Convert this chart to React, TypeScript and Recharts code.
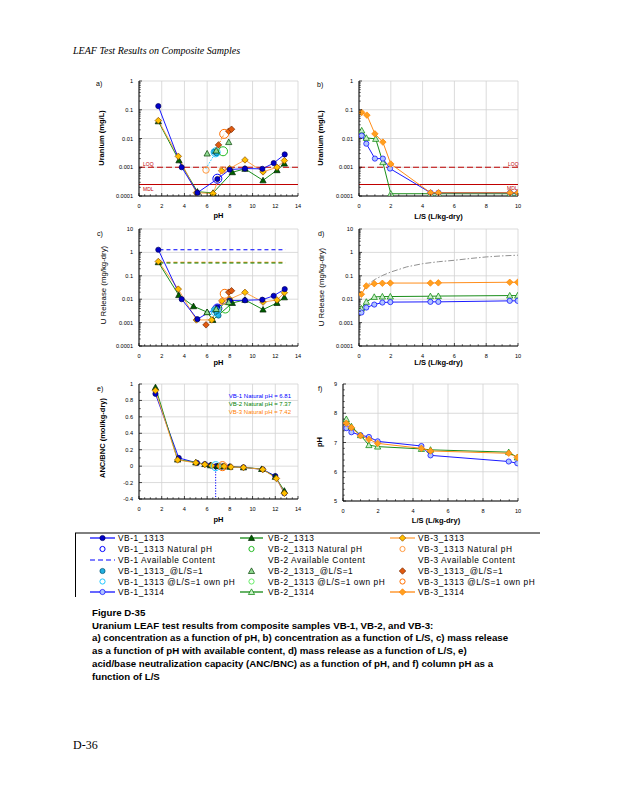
import React from 'react';
import { ComposedChart, Line, XAxis, YAxis, CartesianGrid, ReferenceLine } from 'recharts';

// ---------------- colours ----------------
const BLUE = '#0000ff';
const GREEN = '#008000';
const ORANGE = '#ff9933';
const ORANGE2 = '#ff8000';
const RED = '#c00000';

// ---------------- tick values ----------------
const phTicks = [0, 2, 4, 6, 8, 10, 12, 14];
const lsTicks = [0, 2, 4, 6, 8, 10];
const concTicks = [0.0001, 0.001, 0.01, 0.1, 1];
const releaseTicks = [0.0001, 0.001, 0.01, 0.1, 1, 10];
const ancTicks = [-0.4, -0.2, 0, 0.2, 0.4, 0.6, 0.8, 1];
const columnPhTicks = [5, 6, 7, 8, 9];

// ---------------- a) concentration vs pH (mg/L) ----------------
const a_VB1_1313 = [[1.7, 0.134], [3.76, 0.001], [5.14, 0.00013], [6.9, 0.00039], [7.98, 0.00083], [9.33, 0.0009], [10.86, 0.00088], [11.86, 0.0014], [12.83, 0.0028]];
const a_VB2_1313 = [[1.7, 0.0396], [3.52, 0.00174], [5.14, 0.000141], [6.52, 0.000128], [8.22, 0.00067], [9.33, 0.00088], [10.92, 0.00035], [12.15, 0.00079], [12.8, 0.00134]];
const a_VB3_1313 = [[1.7, 0.042], [3.46, 0.0024], [5.05, 0.00013], [6.52, 0.000122], [7.28, 0.00075], [7.98, 0.0009], [9.33, 0.0018], [10.92, 0.00069], [12.15, 0.001], [12.8, 0.0017]];
const a_VB1_nat = [[6.9, 0.0004]];
const a_VB1_ls1 = [[6.6, 0.0035], [6.85, 0.003]];
const a_VB1_own = [[6.75, 0.0033]];
const a_VB1_ownLine = [[5.9, 0.0009], [6.75, 0.0033]];
const a_VB2_nat = [[7.4, 0.0036]];
const a_VB2_ls1 = [[6.0, 0.003], [6.8, 0.0038], [7.9, 0.0075]];
const a_VB3_nat = [[7.35, 0.0008], [5.9, 0.0008]];
const a_VB3_ls1 = [[7.0, 0.006], [7.9, 0.018], [8.15, 0.021]];
const a_VB3_own = [[7.5, 0.0145]];
const a_VB3_ownLine = [[7.0, 0.006], [7.5, 0.0145]];
const a_LOQ = 0.001;
const a_MDL = 0.00025;

// ---------------- b) concentration vs L/S (mg/L) ----------------
const b_VB1_1314 = [[0.17, 0.0126], [0.46, 0.0066], [1.0, 0.002], [1.5, 0.002], [1.95, 0.0009], [4.5, 0.00013], [5.0, 0.00013], [9.5, 0.00013], [10, 0.00013]];
const b_VB2_1314 = [[0.17, 0.019], [0.46, 0.0105], [1.05, 0.0097], [1.5, 0.0015], [2.0, 0.00012], [4.5, 0.00012], [5.0, 0.00012], [9.5, 0.00012], [10, 0.00012]];
const b_VB3_1314 = [[0.17, 0.081], [0.5, 0.065], [1.0, 0.0145], [1.5, 0.0075], [2.0, 0.0013], [4.5, 0.00013], [5.0, 0.00013], [9.5, 0.00013], [10, 0.00013]];

// ---------------- c) release vs pH (mg/kg-dry) ----------------
const c_VB1_1313 = [[1.7, 1.3], [3.76, 0.01], [5.14, 0.0014], [6.9, 0.0045], [7.98, 0.0088], [9.33, 0.009], [10.86, 0.0095], [11.86, 0.014], [12.83, 0.027]];
const c_VB2_1313 = [[1.7, 0.38], [3.5, 0.015], [4.8, 0.005], [6.0, 0.0028], [6.5, 0.0013], [8.22, 0.0069], [9.33, 0.0094], [10.92, 0.0036], [12.15, 0.0069], [12.8, 0.012]];
const c_VB3_1313 = [[1.7, 0.41], [3.46, 0.027], [5.05, 0.0013], [6.4, 0.0013], [7.3, 0.0085], [7.98, 0.01], [9.33, 0.0196], [10.92, 0.0075], [12.15, 0.0093], [12.8, 0.019]];
const c_VB1_avail = [[1.8, 1.3], [12.9, 1.3]];
const c_VB2_avail = [[1.8, 0.355], [12.9, 0.355]];
const c_VB3_avail = [[1.8, 0.38], [12.9, 0.38]];
const c_VB1_nat = [[6.9, 0.004]];
const c_VB1_ls1 = [[6.6, 0.0035], [6.85, 0.0025], [7.0, 0.002]];
const c_VB1_own = [[6.75, 0.003]];
const c_VB1_ownLine = [[6.3, 0.0022], [6.75, 0.003]];
const c_VB2_nat = [[7.6, 0.004]];
const c_VB2_ls1 = [[6.0, 0.0028], [6.8, 0.0038], [7.9, 0.0075]];
const c_VB3_nat = [[7.55, 0.017]];
const c_VB3_ls1 = [[5.9, 0.0008], [7.9, 0.02], [8.15, 0.023]];
const c_VB3_own = [[7.35, 0.008]];

// ---------------- d) release vs L/S (mg/kg-dry) ----------------
const d_VB1_1314 = [[0.15, 0.0027], [0.46, 0.0044], [0.96, 0.0059], [1.47, 0.0072], [1.97, 0.0075], [4.49, 0.0077], [4.99, 0.0077], [9.48, 0.0085], [9.98, 0.0085]];
const d_VB2_1314 = [[0.15, 0.004], [0.46, 0.0077], [0.96, 0.0125], [1.47, 0.013], [1.97, 0.013], [4.49, 0.0134], [4.99, 0.0136], [9.48, 0.0143], [9.98, 0.0143]];
const d_VB3_1314 = [[0.15, 0.0163], [0.46, 0.037], [0.96, 0.046], [1.47, 0.048], [1.97, 0.049], [4.49, 0.049], [4.99, 0.05], [9.48, 0.053], [9.98, 0.053]];
const d_grey = [[0.3, 0.024], [0.6, 0.045], [1, 0.07], [1.5, 0.105], [2, 0.145], [3, 0.24], [4, 0.33], [5, 0.4], [6, 0.46], [7, 0.55], [8, 0.64], [9, 0.71], [10, 0.76]];

// ---------------- e) ANC/BNC vs pH (mol/kg-dry) ----------------
const e_VB1 = [[1.45, 0.88], [3.5, 0.1], [5.1, 0.04], [5.8, 0.025], [6.3, 0.01], [6.8, 0], [7.3, -0.005], [8.0, -0.005], [9.2, -0.015], [10.9, -0.04], [12.0, -0.12], [12.8, -0.33]];
const e_VB2 = [[1.45, 0.96], [3.4, 0.08], [5.0, 0.045], [5.8, 0.025], [6.3, 0.01], [6.9, 0], [7.4, -0.002], [8.0, -0.008], [9.2, -0.015], [10.8, -0.035], [12.0, -0.13], [12.8, -0.3]];
const e_VB3 = [[1.45, 0.92], [3.4, 0.075], [5.0, 0.04], [5.8, 0.02], [6.4, 0.005], [7.1, 0], [7.5, -0.002], [8.1, -0.01], [9.2, -0.015], [10.9, -0.04], [12.1, -0.15], [12.8, -0.33]];
const e_VB1_natLine = [[6.75, 0], [6.75, -0.4]];
const e_VB1_nat = [[6.75, 0]];
const e_VB3_nat = [[7.35, 0]];
const e_notes = ['VB-1 Natural pH = 6.81', 'VB-2 Natural pH = 7.37', 'VB-3 Natural pH = 7.42'];

// ---------------- f) column pH vs L/S ----------------
const f_VB1 = [[0.19, 7.49], [0.48, 7.35], [1.0, 7.25], [1.48, 7.19], [1.98, 7.04], [4.48, 6.88], [5.0, 6.56], [9.47, 6.35], [9.96, 6.29]];
const f_VB2 = [[0.19, 7.8], [0.48, 7.55], [1.0, 7.25], [1.48, 6.91], [1.98, 6.86], [4.48, 6.78], [5.0, 6.75], [9.47, 6.67], [9.96, 6.49]];
const f_VB3 = [[0.19, 7.66], [0.48, 7.51], [1.0, 7.23], [1.48, 7.11], [1.98, 6.97], [4.48, 6.8], [5.0, 6.71], [9.47, 6.63], [9.96, 6.49]];

// ---------------- captions ----------------
const headerText = 'LEAF Test Results on Composite Samples';
const captionLines = [
  'Figure D-35',
  'Uranium LEAF test results from composite samples VB-1, VB-2, and VB-3:',
  'a) concentration as a function of pH, b) concentration as a function of L/S, c) mass release',
  'as a function of pH with available content, d) mass release as a function of L/S, e)',
  'acid/base neutralization capacity (ANC/BNC) as a function of pH, and f) column pH as a',
  'function of L/S',
];

// ---------------- markers ----------------
type ShapeName = 'circle' | 'triangle' | 'diamond' | 'square';
interface MarkerStyle { shape: ShapeName; r: number; fill: string; stroke: string; sw?: number }

const mVB1_1313: MarkerStyle = { shape: 'circle', r: 2.6, fill: '#0000c8', stroke: '#000060' };
const mVB2_1313: MarkerStyle = { shape: 'triangle', r: 2.6, fill: '#006000', stroke: '#002000' };
const mVB3_1313: MarkerStyle = { shape: 'diamond', r: 2.6, fill: '#ffc000', stroke: '#8a4a00' };
const mVB1_1314: MarkerStyle = { shape: 'circle', r: 2.6, fill: '#b0c4ff', stroke: BLUE };
const mVB2_1314: MarkerStyle = { shape: 'triangle', r: 2.6, fill: '#c8f0c8', stroke: GREEN };
const mVB3_1314: MarkerStyle = { shape: 'diamond', r: 2.6, fill: '#ffa020', stroke: ORANGE2 };
const mVB1_nat: MarkerStyle = { shape: 'circle', r: 4.5, fill: 'none', stroke: BLUE, sw: 1 };
const mVB2_nat: MarkerStyle = { shape: 'circle', r: 4.5, fill: 'none', stroke: '#22bb22', sw: 1 };
const mVB3_nat: MarkerStyle = { shape: 'circle', r: 3.2, fill: 'none', stroke: '#ff9a40', sw: 1 };
const mVB1_ls1: MarkerStyle = { shape: 'circle', r: 2.6, fill: '#20b0e0', stroke: '#005070' };
const mVB2_ls1: MarkerStyle = { shape: 'triangle', r: 2.6, fill: '#90d890', stroke: '#004000' };
const mVB3_ls1: MarkerStyle = { shape: 'diamond', r: 2.6, fill: '#e05a10', stroke: '#7a2a00' };
const mVB1_own: MarkerStyle = { shape: 'circle', r: 4.5, fill: 'none', stroke: '#22c8ff', sw: 1 };
const mVB2_own: MarkerStyle = { shape: 'circle', r: 2.6, fill: 'none', stroke: '#66ee66', sw: 1 };
const mVB3_own: MarkerStyle = { shape: 'circle', r: 4.5, fill: 'none', stroke: '#ff7000', sw: 1 };

function drawMarker(m: MarkerStyle, cx: number, cy: number, key?: any, scale = 1) {
  const r = m.r * scale;
  const sw = m.sw ?? 0.7;
  if (m.shape === 'circle') return <circle key={key} cx={cx} cy={cy} r={r} fill={m.fill} stroke={m.stroke} strokeWidth={sw} />;
  if (m.shape === 'triangle') {
    const h = r * 1.2;
    return <polygon key={key} points={`${cx},${cy - h} ${cx + h},${cy + h * 0.8} ${cx - h},${cy + h * 0.8}`} fill={m.fill} stroke={m.stroke} strokeWidth={sw} />;
  }
  if (m.shape === 'diamond') {
    const h = r * 1.25;
    return <polygon key={key} points={`${cx},${cy - h} ${cx + h},${cy} ${cx},${cy + h} ${cx - h},${cy}`} fill={m.fill} stroke={m.stroke} strokeWidth={sw} />;
  }
  return <rect key={key} x={cx - r} y={cy - r} width={2 * r} height={2 * r} fill={m.fill} stroke={m.stroke} strokeWidth={sw} />;
}

const dotFn = (m: MarkerStyle) => (p: any) => {
  const k = `d${p.index}`;
  if (p.cx == null || p.cy == null || !isFinite(p.cx) || !isFinite(p.cy)) return <g key={k} />;
  return drawMarker(m, p.cx, p.cy, k);
};

// ---------------- panel ----------------
type XY = { x: number; y: number };
const toXY = (arr: number[][]): XY[] => arr.map(([x, y]) => ({ x, y }));

interface SeriesDef { data: number[][]; stroke?: string; width?: number; dash?: string; marker?: MarkerStyle }
interface RefDef { y: number; stroke: string; dash?: string; width?: number }
interface PanelProps {
  left: number; top: number; w: number; h: number;
  xDomain: [number, number]; xTicks: number[]; xStep: number; xMinor: number;
  yLog: boolean; yDomain: [number, number]; yTicks: number[]; yStep?: number; yMinor?: number;
  series: SeriesDef[]; refs?: RefDef[];
  yFmt: (v: number) => string;
}

const ML = 40, MT = 4, MR = 6, MB = 26;
const TICK_FONT = 5.6;

function Panel(p: PanelProps) {
  const pxX = p.w / (p.xDomain[1] - p.xDomain[0]);
  const pxDec = p.yLog ? p.h / Math.log10(p.yDomain[1] / p.yDomain[0]) : 0;
  const pxY = !p.yLog ? p.h / (p.yDomain[1] - p.yDomain[0]) : 0;

  const XTick = (props: any) => {
    const { x, y, payload } = props;
    const v = payload.value as number;
    const items: any[] = [<line key="M" x1={x} x2={x} y1={y} y2={y - 3} stroke="#000" strokeWidth={0.7} />];
    for (let m = p.xMinor; m < p.xStep - 1e-9; m += p.xMinor) {
      if (v + m > p.xDomain[1] + 1e-9) break;
      const xx = x + m * pxX;
      items.push(<line key={`m${m}`} x1={xx} x2={xx} y1={y} y2={y - 1.8} stroke="#000" strokeWidth={0.6} />);
    }
    return (
      <g>
        {items}
        <text x={x} y={y + 10} textAnchor="middle" dominantBaseline="central" fontSize={TICK_FONT} fontFamily="Arial, Liberation Sans" fill="#000">{String(v)}</text>
      </g>
    );
  };

  const YTick = (props: any) => {
    const { x, y, payload } = props;
    const v = payload.value as number;
    const items: any[] = [<line key="M" x1={x} x2={x + 3} y1={y} y2={y} stroke="#000" strokeWidth={0.7} />];
    if (p.yLog) {
      if (v < p.yDomain[1] * 0.999) {
        for (let k = 2; k <= 9; k++) {
          const yy = y - Math.log10(k) * pxDec;
          items.push(<line key={`m${k}`} x1={x} x2={x + 1.8} y1={yy} y2={yy} stroke="#000" strokeWidth={0.6} />);
        }
      }
    } else if (p.yMinor && p.yStep) {
      for (let m = p.yMinor; m < p.yStep - 1e-9; m += p.yMinor) {
        if (v + m > p.yDomain[1] + 1e-9) break;
        const yy = y - m * pxY;
        items.push(<line key={`m${m}`} x1={x} x2={x + 1.8} y1={yy} y2={yy} stroke="#000" strokeWidth={0.6} />);
      }
    }
    return (
      <g>
        {items}
        <text x={x - 6} y={y} textAnchor="end" dominantBaseline="central" fontSize={TICK_FONT} fontFamily="Arial, Liberation Sans" fill="#000">{p.yFmt(v)}</text>
      </g>
    );
  };

  return (
    <div style={{ position: 'absolute', left: p.left - ML, top: p.top - MT }}>
      <ComposedChart width={p.w + ML + MR} height={p.h + MT + MB} margin={{ top: MT, right: MR, left: 0, bottom: 0 }}>
        <CartesianGrid stroke="#d2d2d2" strokeWidth={0.8} />
        <XAxis dataKey="x" type="number" domain={p.xDomain} ticks={p.xTicks} interval={0} allowDataOverflow height={MB}
          axisLine={{ stroke: '#000', strokeWidth: 1 }} tickLine={false} tickSize={0} tickMargin={0} tick={XTick} />
        <YAxis type="number" scale={p.yLog ? 'log' : 'linear'} domain={p.yDomain} ticks={p.yTicks} interval={0} allowDataOverflow width={ML}
          axisLine={{ stroke: '#000', strokeWidth: 1 }} tickLine={false} tickSize={0} tickMargin={0} tick={YTick} />
        {(p.refs || []).map((r, i) => (
          <ReferenceLine key={`r${i}`} y={r.y} stroke={r.stroke} strokeWidth={r.width ?? 1} strokeDasharray={r.dash} />
        ))}
        {p.series.map((s, i) => (
          <Line key={`s${i}`} data={toXY(s.data)} dataKey="y" type="linear" stroke={s.stroke ?? 'none'}
            strokeWidth={s.width ?? 0.9} strokeDasharray={s.dash} dot={s.marker ? dotFn(s.marker) : false}
            activeDot={false} isAnimationActive={false} legendType="none" />
        ))}
      </ComposedChart>
    </div>
  );
}

// ---------------- text helpers ----------------
function Txt(props: { x: number; y: number; children: any; size?: number; bold?: boolean; color?: string; anchor?: 'start' | 'middle' | 'end'; rotate?: boolean; serif?: boolean; italic?: boolean; spacing?: number }) {
  const { x, y, size = 7, bold = false, color = '#000', anchor = 'start', rotate = false, serif = false, italic = false, spacing = 0 } = props;
  const tx = anchor === 'start' ? '0' : anchor === 'middle' ? '-50%' : '-100%';
  return (
    <div style={{
      position: 'absolute', left: x, top: y, whiteSpace: 'nowrap', lineHeight: 1,
      fontSize: size, fontWeight: bold ? 700 : 400, color, letterSpacing: spacing,
      fontFamily: serif ? '"Liberation Serif", "Times New Roman", serif' : '"Liberation Sans", Arial, sans-serif',
      fontStyle: italic ? 'italic' : 'normal',
      transform: rotate ? 'translate(-50%,-50%) rotate(-90deg)' : `translate(${tx},-50%)`,
    }}>{props.children}</div>
  );
}

const logFmt = (v: number) => String(v);
const linFmt = (v: number) => (Math.abs(v) < 1e-9 ? '0' : String(Math.round(v * 10) / 10));

// ---------------- legend ----------------
interface LegendItem { label: string; line?: string; dash?: string; marker?: MarkerStyle }
const legendCol1: LegendItem[] = [
  { label: 'VB-1_1313', line: BLUE, marker: mVB1_1313 },
  { label: 'VB-1_1313 Natural pH', marker: mVB1_nat },
  { label: 'VB-1 Available Content', line: BLUE, dash: '5 3' },
  { label: 'VB-1_1313_@L/S=1', marker: mVB1_ls1 },
  { label: 'VB-1_1313 @L/S=1 own pH', marker: mVB1_own },
  { label: 'VB-1_1314', line: BLUE, marker: mVB1_1314 },
];
const legendCol2: LegendItem[] = [
  { label: 'VB-2_1313', line: GREEN, marker: mVB2_1313 },
  { label: 'VB-2_1313 Natural pH', marker: mVB2_nat },
  { label: 'VB-2 Available Content' },
  { label: 'VB-2_1313_@L/S=1', marker: mVB2_ls1 },
  { label: 'VB-2_1313 @L/S=1 own pH', marker: mVB2_own },
  { label: 'VB-2_1314', line: GREEN, marker: mVB2_1314 },
];
const legendCol3: LegendItem[] = [
  { label: 'VB-3_1313', line: ORANGE, marker: mVB3_1313 },
  { label: 'VB-3_1313 Natural pH', marker: mVB3_nat },
  { label: 'VB-3 Available Content' },
  { label: 'VB-3_1313_@L/S=1', marker: mVB3_ls1 },
  { label: 'VB-3_1313 @L/S=1 own pH', marker: mVB3_own },
  { label: 'VB-3_1314', line: ORANGE2, marker: mVB3_1314 },
];

function Legend() {
  const rows = [6, 17, 28, 39, 49.5, 60];
  const cols = [{ x0: 15, x1: 40, tx: 43, items: legendCol1 }, { x0: 165, x1: 188, tx: 193, items: legendCol2 }, { x0: 315, x1: 340, tx: 343, items: legendCol3 }];
  return (
    <svg style={{ position: 'absolute', left: 75, top: 532 }} width={475} height={68}>
      <line x1={0} x2={465} y1={1} y2={1} stroke="#000" strokeWidth={1} />
      <line x1={0.5} x2={0.5} y1={1} y2={65} stroke="#000" strokeWidth={1} />
      {cols.map((c, ci) => c.items.map((it, ri) => {
        const y = rows[ri];
        const cx = (c.x0 + c.x1) / 2;
        const sm = it.marker ? { ...it.marker, r: Math.min(it.marker.r, 2.6) } : undefined;
        return (
          <g key={`${ci}-${ri}`}>
            {it.line && <line x1={c.x0} x2={c.x1} y1={y} y2={y} stroke={it.line} strokeWidth={1.2} strokeDasharray={it.dash} />}
            {sm && drawMarker(sm, cx, y, 'm')}
            <text x={c.tx} y={y} dominantBaseline="central" fontSize={8.3} letterSpacing={0.55} fontFamily="Liberation Sans, Arial" fill="#000">{it.label}</text>
          </g>
        );
      }))}
    </svg>
  );
}

// ---------------- app ----------------
export default function App() {
  return (
    <div style={{ position: 'absolute', left: 0, top: 0, width: 618, height: 800, background: '#fff', overflow: 'hidden' }}>
      <Txt x={73} y={51} size={10} serif italic>{headerText}</Txt>

      {/* a) */}
      <Panel left={139} top={81} w={159} h={115} xDomain={[0, 14]} xTicks={phTicks} xStep={2} xMinor={0.5}
        yLog yDomain={[0.0001, 1]} yTicks={concTicks} yFmt={logFmt}
        refs={[{ y: a_LOQ, stroke: RED, dash: '6 3', width: 1.1 }, { y: a_MDL, stroke: RED, width: 1.1 }]}
        series={[
          { data: a_VB1_ownLine, stroke: '#22c8ff', dash: '1.5 1.5', width: 1 },
          { data: a_VB3_ownLine, stroke: ORANGE2, dash: '1.5 1.5', width: 1 },
          { data: a_VB2_1313, stroke: GREEN, marker: mVB2_1313 },
          { data: a_VB3_1313, stroke: ORANGE, marker: mVB3_1313 },
          { data: a_VB1_1313, stroke: BLUE, marker: mVB1_1313 },
          { data: a_VB1_nat, marker: mVB1_nat },
          { data: a_VB1_ls1, marker: mVB1_ls1 },
          { data: a_VB1_own, marker: mVB1_own },
          { data: a_VB2_nat, marker: mVB2_nat },
          { data: a_VB2_ls1, marker: mVB2_ls1 },
          { data: a_VB3_nat, marker: mVB3_nat },
          { data: a_VB3_ls1, marker: mVB3_ls1 },
          { data: a_VB3_own, marker: mVB3_own },
        ]} />
      <Txt x={143} y={163.5} size={5} color={RED}>LOQ</Txt>
      <Txt x={143} y={189} size={5} color={RED}>MDL</Txt>
      <Txt x={96} y={83} size={7}>a)</Txt>
      <Txt x={102} y={138} size={7.5} bold rotate>Uranium (mg/L)</Txt>
      <Txt x={218.5} y={216} size={7.5} bold anchor="middle">pH</Txt>

      {/* b) */}
      <Panel left={359} top={81} w={159} h={115} xDomain={[0, 10]} xTicks={lsTicks} xStep={2} xMinor={0.5}
        yLog yDomain={[0.0001, 1]} yTicks={concTicks} yFmt={logFmt}
        refs={[{ y: a_LOQ, stroke: RED, dash: '6 3', width: 1.1 }, { y: a_MDL, stroke: RED, width: 1.1 }]}
        series={[
          { data: b_VB2_1314, stroke: GREEN, marker: mVB2_1314 },
          { data: b_VB1_1314, stroke: BLUE, marker: mVB1_1314 },
          { data: b_VB3_1314, stroke: ORANGE2, marker: mVB3_1314 },
        ]} />
      <Txt x={508} y={164} size={5} color={RED}>LOQ</Txt>
      <Txt x={507} y={188} size={5} color={RED}>MDL</Txt>
      <Txt x={317} y={84} size={7}>b)</Txt>
      <Txt x={321} y={138} size={7.5} bold rotate>Uranium (mg/L)</Txt>
      <Txt x={438.5} y={217} size={7.5} bold anchor="middle">L/S (L/kg-dry)</Txt>

      {/* c) */}
      <Panel left={139} top={229} w={159} h={117} xDomain={[0, 14]} xTicks={phTicks} xStep={2} xMinor={0.5}
        yLog yDomain={[0.0001, 10]} yTicks={releaseTicks} yFmt={logFmt}
        series={[
          { data: c_VB1_avail, stroke: BLUE, dash: '4 3', width: 1.1 },
          { data: c_VB3_avail, stroke: ORANGE2, dash: '4 3', width: 1.1 },
          { data: c_VB2_avail, stroke: GREEN, dash: '4 3', width: 1.1 },
          { data: c_VB1_ownLine, stroke: '#22c8ff', dash: '1.5 1.5', width: 1 },
          { data: c_VB2_1313, stroke: GREEN, marker: mVB2_1313 },
          { data: c_VB3_1313, stroke: ORANGE, marker: mVB3_1313 },
          { data: c_VB1_1313, stroke: BLUE, marker: mVB1_1313 },
          { data: c_VB1_nat, marker: mVB1_nat },
          { data: c_VB1_ls1, marker: mVB1_ls1 },
          { data: c_VB1_own, marker: mVB1_own },
          { data: c_VB2_nat, marker: mVB2_nat },
          { data: c_VB2_ls1, marker: mVB2_ls1 },
          { data: c_VB3_nat, marker: mVB3_own },
          { data: c_VB3_ls1, marker: mVB3_ls1 },
          { data: c_VB3_own, marker: mVB3_nat },
        ]} />
      <Txt x={97} y={233} size={7}>c)</Txt>
      <Txt x={104} y={285} size={7.8} rotate>U Release (mg/kg-dry)</Txt>
      <Txt x={218.5} y={363} size={7.5} bold anchor="middle">pH</Txt>

      {/* d) */}
      <Panel left={359} top={229} w={159} h={117} xDomain={[0, 10]} xTicks={lsTicks} xStep={2} xMinor={0.5}
        yLog yDomain={[0.0001, 10]} yTicks={releaseTicks} yFmt={logFmt}
        series={[
          { data: d_grey, stroke: '#909090', dash: '6 2 1.5 2', width: 1 },
          { data: d_VB3_1314, stroke: ORANGE2, marker: mVB3_1314 },
          { data: d_VB2_1314, stroke: GREEN, marker: mVB2_1314 },
          { data: d_VB1_1314, stroke: BLUE, marker: mVB1_1314 },
        ]} />
      <Txt x={318} y={233} size={7}>d)</Txt>
      <Txt x={322} y={287} size={7.8} rotate>U Release (mg/kg-dry)</Txt>
      <Txt x={438.5} y={363} size={7.5} bold anchor="middle">L/S (L/kg-dry)</Txt>

      {/* e) */}
      <Panel left={139} top={384} w={159} h={115} xDomain={[0, 14]} xTicks={phTicks} xStep={2} xMinor={0.5}
        yLog={false} yDomain={[-0.4, 1]} yTicks={ancTicks} yStep={0.2} yMinor={0.1} yFmt={linFmt}
        series={[
          { data: e_VB1_natLine, stroke: BLUE, dash: '1.2 1.5', width: 1 },
          { data: e_VB1, stroke: BLUE, marker: mVB1_1313 },
          { data: e_VB2, stroke: GREEN, marker: mVB2_1313 },
          { data: e_VB3, stroke: ORANGE, marker: mVB3_1313 },
          { data: e_VB1_nat, marker: mVB1_own },
          { data: e_VB3_nat, marker: mVB3_own },
        ]} />
      <Txt x={291} y={396} size={6} color={BLUE} anchor="end">{e_notes[0]}</Txt>
      <Txt x={291} y={404} size={6} color={GREEN} anchor="end">{e_notes[1]}</Txt>
      <Txt x={291} y={412} size={6} color={ORANGE2} anchor="end">{e_notes[2]}</Txt>
      <Txt x={97} y={388} size={7}>e)</Txt>
      <Txt x={103} y={438} size={7.5} bold rotate>ANC/BNC (mol/kg-dry)</Txt>
      <Txt x={218.5} y={520} size={7.5} bold anchor="middle">pH</Txt>

      {/* f) */}
      <Panel left={343} top={384} w={175} h={117} xDomain={[0, 10]} xTicks={lsTicks} xStep={2} xMinor={0.5}
        yLog={false} yDomain={[5, 9]} yTicks={columnPhTicks} yStep={1} yMinor={0.2} yFmt={linFmt}
        series={[
          { data: f_VB1, stroke: BLUE, marker: mVB1_1314 },
          { data: f_VB2, stroke: GREEN, marker: mVB2_1314 },
          { data: f_VB3, stroke: ORANGE2, marker: mVB3_1314 },
        ]} />
      <Txt x={318} y={388} size={7}>f)</Txt>
      <Txt x={320} y={442} size={7.5} bold rotate>pH</Txt>
      <Txt x={436} y={521} size={7.5} bold anchor="middle">L/S (L/kg-dry)</Txt>

      <Legend />

      {captionLines.map((t, i) => (
        <Txt key={i} x={92} y={613 + i * 12.7} size={9.7} bold>{t}</Txt>
      ))}
      <Txt x={73} y={745} size={12} serif>D-36</Txt>
    </div>
  );
}
